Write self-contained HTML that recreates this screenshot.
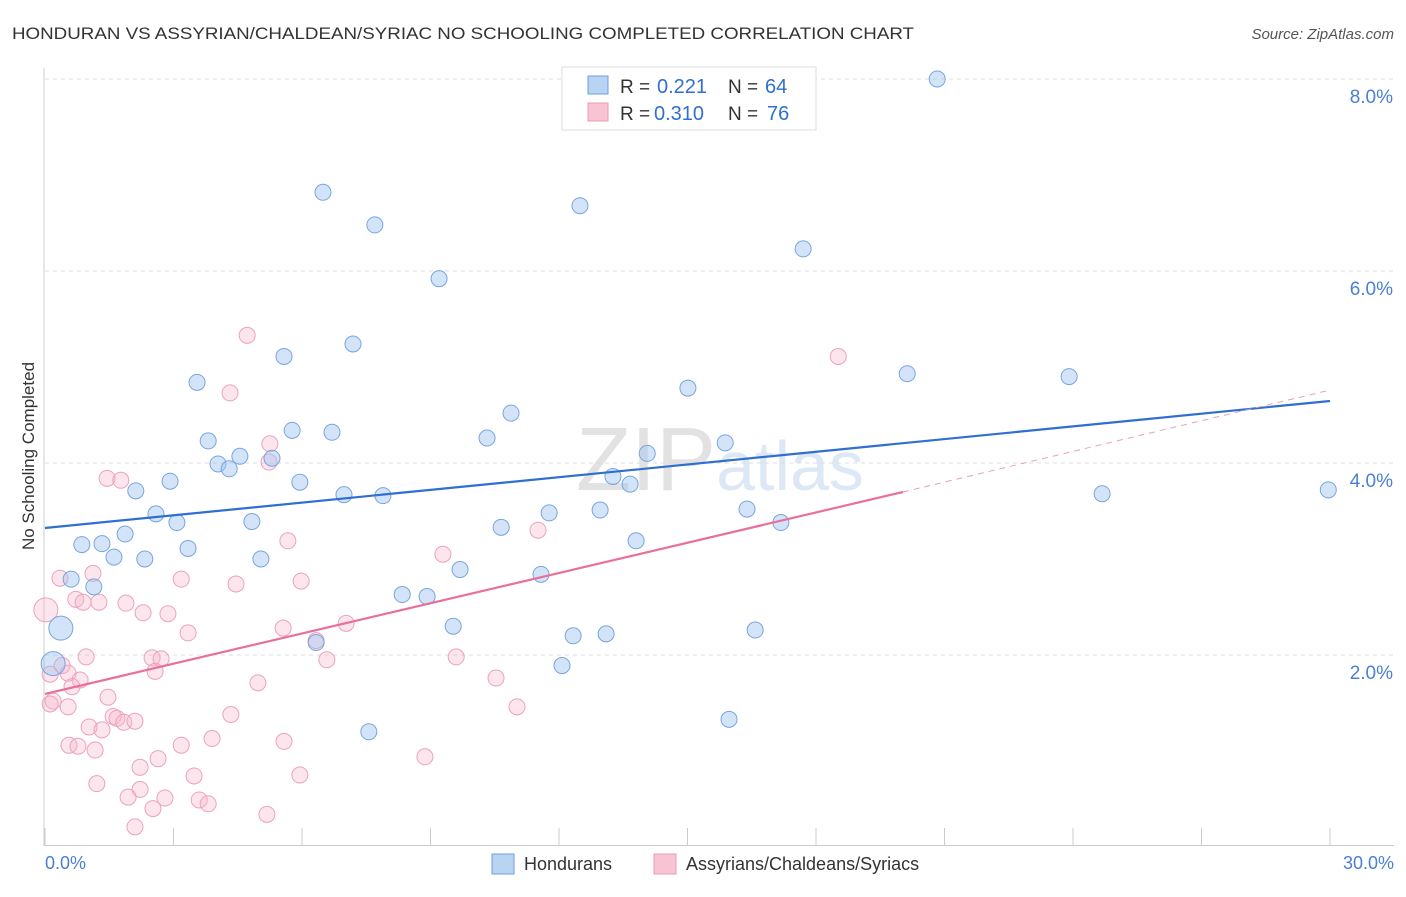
<!DOCTYPE html>
<html><head><meta charset="utf-8"><style>
body{margin:0;background:#fff;font-family:"Liberation Sans",sans-serif}
svg text{font-family:"Liberation Sans",sans-serif}
</style></head><body>
<svg width="1406" height="892" xmlns="http://www.w3.org/2000/svg">
<text x="12" y="39" font-size="17" fill="#333" textLength="902" lengthAdjust="spacingAndGlyphs">HONDURAN VS ASSYRIAN/CHALDEAN/SYRIAC NO SCHOOLING COMPLETED CORRELATION CHART</text>
<text x="1394" y="39" font-size="15" fill="#555" text-anchor="end" font-style="italic">Source: ZipAtlas.com</text>
<text x="720" y="490" font-size="90" fill="#e4e4e4" text-anchor="middle" font-family="Liberation Serif"><tspan fill="#e2e2e2">ZIP</tspan><tspan fill="#dce8f6" font-family="Liberation Sans" font-size="70">atlas</tspan></text>
<g id="grid"></g>
<g id="axes"></g>
<g id="pts"></g>
<g id="lines"></g>
<text transform="translate(34,456) rotate(-90)" font-size="17" fill="#333" text-anchor="middle">No Schooling Completed</text>
<text x="45" y="869" font-size="18" fill="#4a7fd4">0.0%</text>
<text x="1394" y="869" font-size="18" fill="#4a7fd4" text-anchor="end">30.0%</text>
<g>
<rect x="562" y="67" width="254" height="63" fill="#fff" stroke="#ddd"/>
<rect x="588" y="76" width="20" height="18" fill="#b9d3f3" stroke="#6f9fdc"/>
<rect x="588" y="103" width="20" height="18" fill="#f8c4d4" stroke="#e89ab4"/>
<text x="620" y="93" font-size="19" fill="#333">R =</text>
<text x="657" y="93" font-size="20" fill="#2f6fd0">0.221</text>
<text x="728" y="93" font-size="19" fill="#333">N =</text>
<text x="765" y="93" font-size="20" fill="#2f6fd0">64</text>
<text x="620" y="120" font-size="19" fill="#333">R =</text>
<text x="654" y="120" font-size="20" fill="#2f6fd0">0.310</text>
<text x="728" y="120" font-size="19" fill="#333">N =</text>
<text x="767" y="120" font-size="20" fill="#2f6fd0">76</text>
</g>
<g>
<rect x="492" y="854" width="22" height="20" fill="#b9d3f3" stroke="#6f9fdc"/>
<text x="524" y="870" font-size="18" fill="#333">Hondurans</text>
<rect x="654" y="854" width="22" height="20" fill="#f8c4d4" stroke="#e89ab4"/>
<text x="686" y="870" font-size="18" fill="#333">Assyrians/Chaldeans/Syriacs</text>
</g>
</svg>
<script>
const blueX=[20.83,6.49,7.70,12.49,17.70,9.20,5.58,7.19,3.55,15.01,20.13,23.91,10.88,3.81,5.77,6.70,10.32,15.88,4.55,4.04,4.30,5.30,14.06,13.26,13.66,2.92,5.95,2.12,6.98,7.89,24.68,29.96,2.59,3.08,4.83,11.77,12.96,16.39,17.18,10.65,1.87,0.86,1.33,1.61,3.34,2.33,5.04,13.80,9.69,11.58,0.61,1.14,8.34,8.92,9.53,12.33,13.10,16.58,0.37,6.33,12.07,0.19,15.97,7.56];
const blueY=[8.00,6.82,6.48,6.68,6.23,5.92,5.11,5.24,4.84,4.78,4.93,4.90,4.52,4.23,4.34,4.32,4.26,4.21,4.07,3.99,3.94,4.05,4.10,3.86,3.78,3.81,3.80,3.71,3.67,3.66,3.68,3.72,3.47,3.38,3.39,3.48,3.51,3.52,3.38,3.33,3.26,3.15,3.16,3.02,3.11,3.00,3.00,3.19,2.89,2.84,2.79,2.71,2.63,2.61,2.30,2.20,2.22,2.26,2.28,2.13,1.89,1.91,1.33,1.20];
const blueBig=[58,61];
const pinkX=[4.72,18.52,4.32,5.25,5.23,1.45,1.77,5.67,9.29,11.51,1.12,3.18,4.46,5.98,0.35,0.72,0.89,1.26,1.89,2.29,2.87,0.02,3.34,5.56,7.03,6.33,6.58,9.60,2.50,2.71,2.57,0.96,0.40,0.54,0.12,10.53,4.97,0.82,0.63,1.47,0.19,11.02,0.54,1.59,1.68,1.84,2.10,4.34,1.03,1.33,3.90,5.58,3.18,0.56,0.77,1.17,2.64,8.87,2.22,3.48,5.95,1.21,2.22,1.94,2.80,3.60,3.81,2.52,5.18,2.10,0.12];
const pinkY=[5.33,5.11,4.73,4.20,4.01,3.84,3.82,3.19,3.05,3.30,2.85,2.79,2.74,2.77,2.80,2.58,2.55,2.55,2.54,2.44,2.43,2.47,2.23,2.28,2.33,2.15,1.95,1.98,1.97,1.96,1.83,1.98,1.89,1.81,1.80,1.76,1.71,1.74,1.67,1.56,1.52,1.46,1.46,1.36,1.34,1.30,1.31,1.38,1.25,1.22,1.13,1.10,1.06,1.06,1.05,1.01,0.92,0.94,0.83,0.74,0.75,0.66,0.60,0.52,0.51,0.49,0.45,0.40,0.34,0.21,1.49];
const pinkBig=[21];
const yTicks=[2,4,6,8];
const xTicks=[0,3,6,9,12,15,18,21,24,27,30];
const blueTrend=[[0,3.323],[30,4.646]];
const pinkTrend=[[0,1.594],[20.03,3.698]];
const pinkDash=[[20.03,3.698],[30,4.76]];
const NS='http://www.w3.org/2000/svg';
const sx=v=>45+v/30*1285, sy=v=>847-v*96;
function mk(p,t,a){const e=document.createElementNS(NS,t);for(const k in a)e.setAttribute(k,a[k]);p.appendChild(e);return e;}
const grid=document.getElementById('grid'),axes=document.getElementById('axes');
yTicks.forEach(t=>{
 const l=mk(grid,'line',{x1:45,x2:1394,y1:sy(t),y2:sy(t),stroke:'#dcdcdc','stroke-dasharray':'4,4'});
 
 
 const tx=mk(axes,'text',{x:1393,y:sy(t)+24,'font-size':19,fill:'#4a7fd4','text-anchor':'end'});
 tx.textContent=t.toFixed(1)+'%';
 
 
});
mk(axes,'line',{x1:44,x2:44,y1:68,y2:846,stroke:'#ccc'});
mk(axes,'line',{x1:44,x2:1394,y1:845.5,y2:845.5,stroke:'#ccc'});
xTicks.forEach(t=>{
 const l=mk(axes,'line',{x1:sx(t),x2:sx(t),y1:828,y2:846,stroke:'#ccc'});
 
 
});
const pts=document.getElementById('pts');
pinkX.forEach((x,i)=>{
 const c=mk(pts,'circle',{cx:sx(x),cy:sy(pinkY[i]),r:pinkBig.includes(i)?12:8,fill:'rgba(246,180,202,0.35)',stroke:'#eaa3bb','stroke-width':1});
 
 
});
blueX.forEach((x,i)=>{
 const c=mk(pts,'circle',{cx:sx(x),cy:sy(blueY[i]),r:blueBig.includes(i)?12:8,fill:'rgba(160,195,240,0.45)',stroke:'#78a5de','stroke-width':1});
 
 
});
const lines=document.getElementById('lines');
function ln(p,col,w,dash,name){const a={x1:sx(p[0][0]),y1:sy(p[0][1]),x2:sx(p[1][0]),y2:sy(p[1][1]),stroke:col,'stroke-width':w};if(dash)a['stroke-dasharray']=dash;const l=mk(lines,'line',a);
 
 }
ln(blueTrend,'#2f6fd0',2.2,null,'honduran-trend-line');
ln(pinkTrend,'#e8709a',2.2,null,'assyrian-trend-line');
ln(pinkDash,'#e8a0b8',1,'6,5','assyrian-trend-extension');
</script>
</body></html>
